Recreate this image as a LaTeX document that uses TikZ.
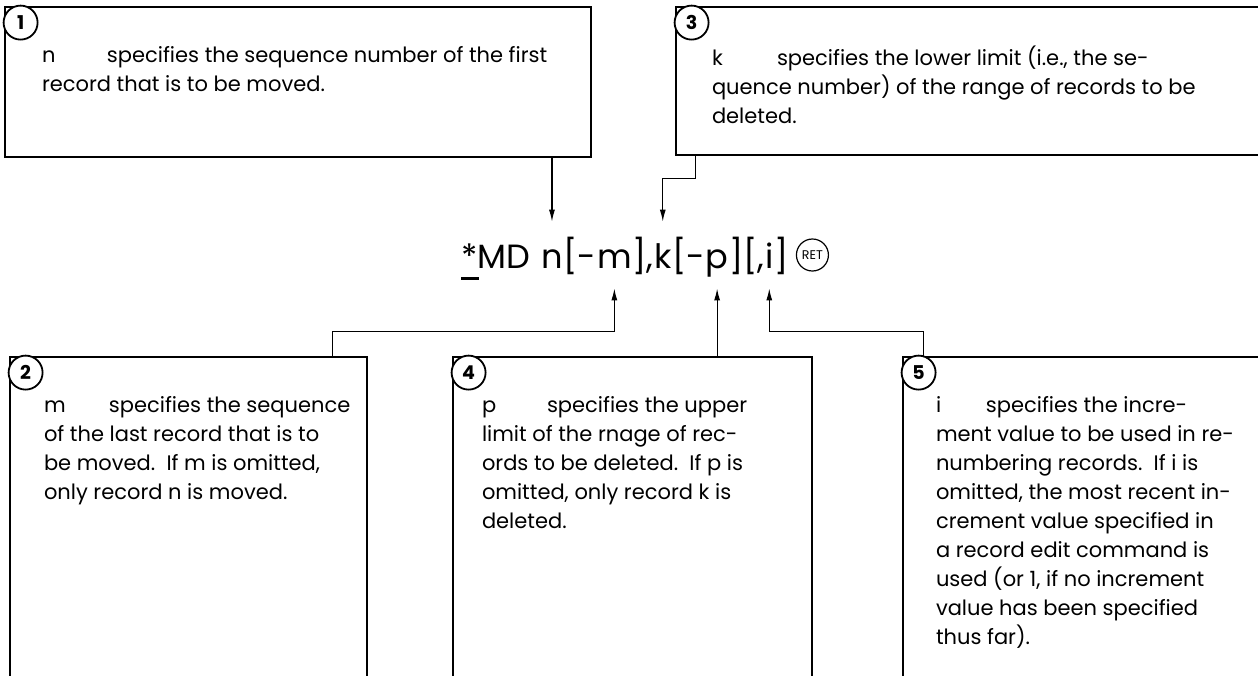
\documentclass[tikz,border=0pt]{standalone}
\usepackage{fontspec}
\setmainfont{Poppins}
\usetikzlibrary{arrows.meta,positioning,fit}

\tikzset{
  infobox/.style={draw, line width=1.4pt, inner sep=0pt},
  numbub/.style={draw, circle, fill=white, line width=0.9pt, minimum size=17pt, inner sep=0pt, font=\bfseries\fontsize{9.5}{9.5}\selectfont},
  boxtext/.style={anchor=north west, align=left, inner sep=0pt, font=\fontsize{10.5}{14.5}\selectfont},
  cmd/.style={anchor=base west, inner sep=0pt, text height=23pt, text depth=10pt, font=\fontsize{16.8}{16.8}\selectfont},
  link/.style={line width=0.6pt},
  arr/.style={link, -{Latex[length=6pt,width=3pt]}},
  retkey/.style={draw, circle, line width=0.6pt, minimum size=16pt, inner sep=0pt, font=\fontsize{6.3}{6.3}\selectfont}
}
\newcommand{\parm}[2][32.5pt]{\makebox[#1][l]{#2}}

\begin{document}
\begin{tikzpicture}[x=0.5pt, y=-0.5pt]
  \useasboundingbox (0,0) rectangle (1258,675);

  % the five boxes (pixel grid, y down)
  \node[infobox, fit={(5,7) (591,157)}] (box1) {};
  \node[infobox, fit={(676,7) (1275,155)}] (box3) {};
  \node[infobox, fit={(10,357) (367,700)}] (box2) {};
  \node[infobox, fit={(453,357) (812,700)}] (box4) {};
  \node[infobox, fit={(903,357) (1275,700)}] (box5) {};
  \foreach \b/\n in {box1/1,box2/2,box3/3,box4/4,box5/5}
    \node[numbub] (num\n) at ([xshift=8.5pt,yshift=-8.5pt]\b.north west) {\n};

  % box texts
  \node[boxtext] (txt1) at ([xshift=19pt,yshift=-20pt]box1.north west)
    {\parm{n}specifies the sequence number of the first\\
     record that is to be moved.};
  \node[boxtext] (txt3) at ([xshift=18.5pt,yshift=-20pt]box3.north west)
    {\parm{k}specifies the lower limit (i.e., the se-\\
     quence number) of the range of records to be\\
     deleted.};
  \node[boxtext] (txt2) at ([xshift=17.5pt,yshift=-20pt]box2.north west)
    {\parm{m}specifies the sequence\\
     of the last record that is to\\
     be moved.\ \ If m is omitted,\\
     only record n is moved.};
  \node[boxtext] (txt4) at ([xshift=15pt,yshift=-20pt]box4.north west)
    {\parm{p}specifies the upper\\
     limit of the rnage of rec-\\
     ords to be deleted.\ \ If p is\\
     omitted, only record k is\\
     deleted.};
  \node[boxtext] (txt5) at ([xshift=17pt,yshift=-20pt]box5.north west)
    {\parm[25pt]{i}specifies the incre-\\
     ment value to be used in re-\\
     numbering records.\ \ If i is\\
     omitted, the most recent in-\\
     crement value specified in\\
     a record edit command is\\
     used (or 1, if no increment\\
     value has been specified\\
     thus far).};

  % the command line
  \node[cmd] (cmdhead) at (461,268) {\rlap{\rule[-6pt]{9pt}{1.5pt}}*MD\kern5pt};
  \foreach \nm/\txt [remember=\nm as \prev (initially cmdhead)] in
      {cn/n, cb1/{[-}, cm/m, cb2/{],}, ck/k, cb3/{[-}, cp/p, cb4/{][,}, ci/i, cb5/{]}}
    \node[cmd] (\nm) at (\prev.base east) {\txt};
  \node[retkey, right=3.5pt of cb5] (ret) {RET};

  % connectors
  \draw[arr] (box1.south -| cn) -- (cn.north);
  \draw[arr] ([xshift=10.5pt]box3.south west) -- ++(0,22) -| (ck.north);
  \draw[arr] ([xshift=162pt]box2.north west) -- ++(0,-24) -| (cm.south);
  \draw[arr] (box4.north -| cp) -- (cp.south);
  \draw[arr] ([xshift=11pt]box5.north west) -- ++(0,-24) -| (ci.south);
\end{tikzpicture}
\end{document}
